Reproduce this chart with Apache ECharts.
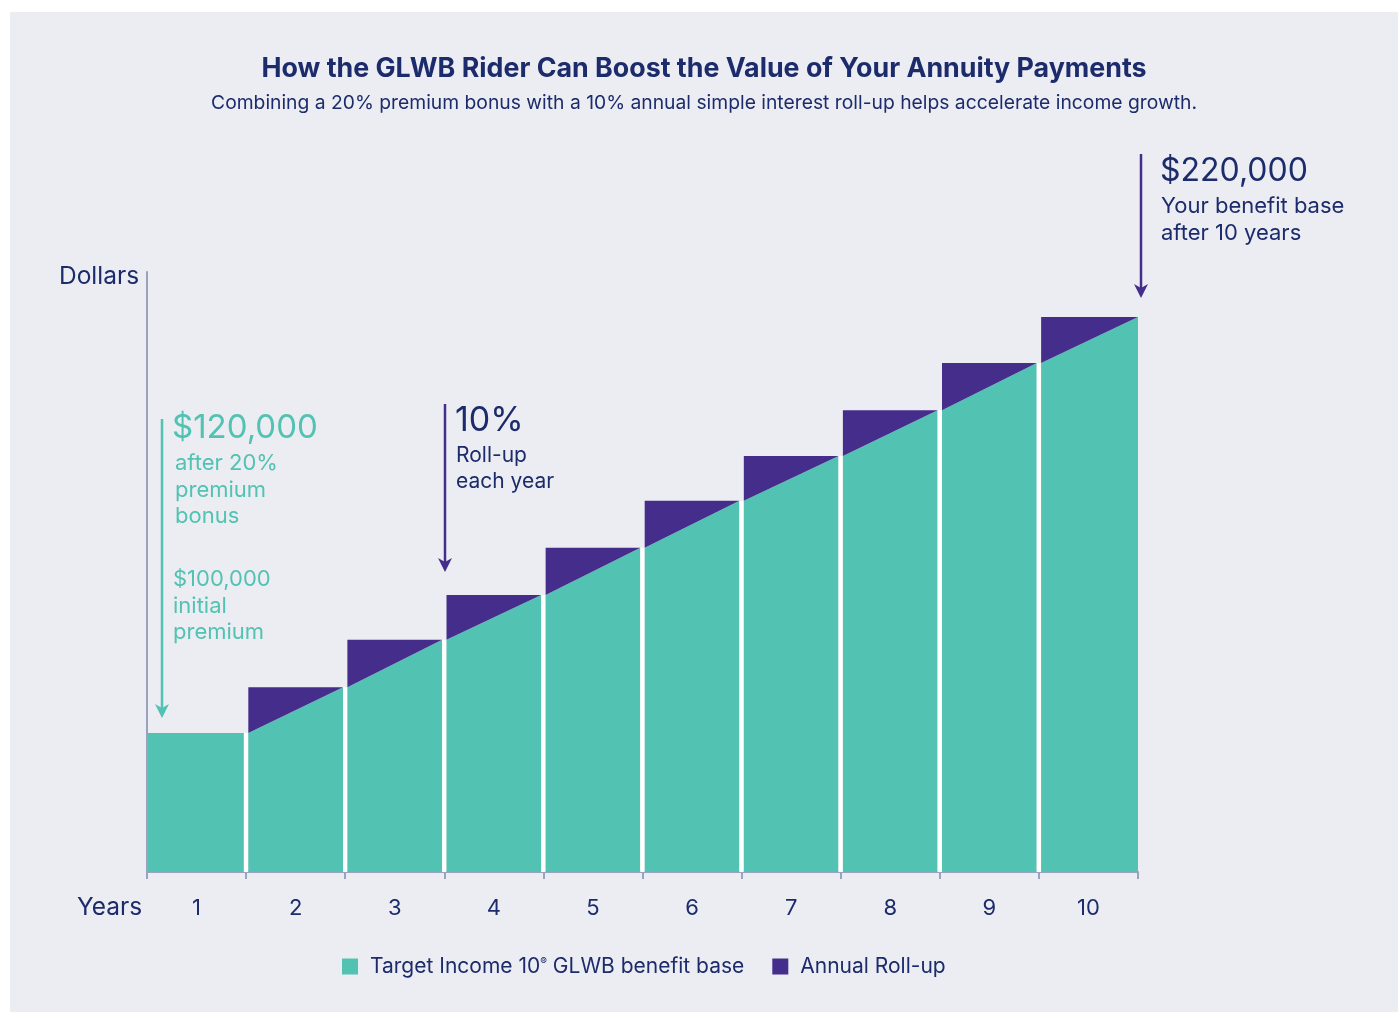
<!DOCTYPE html>
<html>
<head>
<meta charset="utf-8">
<script src="https://cdn.jsdelivr.net/npm/echarts@6/dist/echarts.min.js"></script>
<style>
  html, body { margin: 0; padding: 0; background: #ffffff; }
  #bg { position: absolute; left: 10px; top: 12px; width: 1388px; height: 1000px; background: #ecedf2; }
  #chart { position: absolute; left: 0; top: 0; width: 1398px; height: 1013px; }
</style>
</head>
<body>
<div id="bg"></div>
<div id="chart"></div>
<script>
// ---- data ----
const years = ['1', '2', '3', '4', '5', '6', '7', '8', '9', '10'];
const benefitBase = [120000, 131000, 142400, 153200, 164500, 175800, 186600, 197600, 208900, 220000];
const seriesNames = ['Target Income 10® GLWB benefit base', 'Annual Roll-up'];

// ---- styles ----
const NAVY = '#1c2b6b';
const GREEN = '#52c2b3';
const PURPLE = '#452d8c';
const AXIS = '#9aa3bd';
const FONT = 'Inter, "Noto Sans", sans-serif';

const rows = benefitBase.map((v, i) => [i, i === 0 ? v : benefitBase[i - 1], v]);

const chart = echarts.init(document.getElementById('chart'), null, { renderer: 'canvas' });

function bandEdges(api, idx) {
  const c = api.coord([idx, 0]);
  const w = api.size([1, 0])[0];
  return [c[0] - w / 2, c[0] + w / 2];
}

function renderBase(params, api) {
  const idx = api.value(0), prev = api.value(1), val = api.value(2);
  const [x0, x1] = bandEdges(api, idx);
  const base = params.coordSys.y + params.coordSys.height;
  const yPrev = api.coord([idx, prev])[1];
  const yVal = api.coord([idx, val])[1];
  const g = 2.2;
  const children = [];
  if (idx > 0) {
    children.push({
      type: 'rect',
      shape: { x: x0 - g, y: yPrev, width: 2 * g, height: base - yPrev },
      style: { fill: '#ffffff' }
    });
  }
  const xl = x0 + (idx === 0 ? 1 : g);
  const xr = x1 - (idx === years.length - 1 ? 0 : g);
  children.push({
    type: 'polygon',
    shape: { points: [[xl, base], [xl, yPrev], [xr, yVal], [xr, base]] },
    style: { fill: GREEN }
  });
  return { type: 'group', children };
}

function renderRoll(params, api) {
  const idx = api.value(0), prev = api.value(1), val = api.value(2);
  if (prev === val) return null;
  const [x0, x1] = bandEdges(api, idx);
  const yPrev = api.coord([idx, prev])[1];
  const yVal = api.coord([idx, val])[1];
  const g = 2.2;
  const xr = x1 - (idx === years.length - 1 ? 0 : g);
  return {
    type: 'polygon',
    shape: { points: [[x0 + g, yPrev], [x0 + g, yVal], [xr, yVal]] },
    style: { fill: PURPLE }
  };
}

function txt(x, y, text, size, color, weight) {
  return {
    type: 'text', left: x, top: y,
    style: { text, fontSize: size, fill: color, fontFamily: FONT, fontWeight: weight || 'normal' },
    silent: true
  };
}
function arrow(x, y1, y2, color) {
  return [
    { type: 'line', shape: { x1: x, y1: y1, x2: x, y2: y2 - 6 }, style: { stroke: color, lineWidth: 2.5 }, silent: true },
    { type: 'polygon', shape: { points: [[x - 7, y2 - 14], [x, y2 - 10], [x + 7, y2 - 14], [x, y2]] }, style: { fill: color }, silent: true }
  ];
}

const option = {
  backgroundColor: 'transparent',
  animation: false,
  title: {
    text: 'How the GLWB Rider Can Boost the Value of Your Annuity Payments',
    subtext: 'Combining a 20% premium bonus with a 10% annual simple interest roll-up helps accelerate income growth.',
    left: 699, top: 50, textAlign: 'center', itemGap: 12,
    textStyle: { fontFamily: FONT, fontSize: 26.8, fontWeight: 'bold', color: NAVY },
    subtextStyle: { fontFamily: FONT, fontSize: 19.3, color: NAVY }
  },
  legend: {
    left: 342, top: 956, padding: 0,
    itemWidth: 16, itemHeight: 16, itemGap: 28, icon: 'rect',
    data: seriesNames,
    textStyle: {
      fontFamily: FONT, fontSize: 21, color: NAVY, padding: [0, 0, 0, 7],
      rich: { sup: { fontSize: 10, fontFamily: FONT, color: NAVY, padding: [0, 0, 10, 0] } }
    },
    formatter: n => n.replace('®', '{sup|®}')
  },
  grid: { left: 147, right: 260, top: 272, bottom: 141, containLabel: false },
  xAxis: {
    type: 'category', data: years, boundaryGap: true,
    axisLine: { lineStyle: { color: AXIS, width: 2 } },
    axisTick: { show: true, length: 7, lineStyle: { color: AXIS, width: 2 } },
    axisLabel: { color: NAVY, fontSize: 22, fontFamily: FONT, margin: 25 }
  },
  yAxis: {
    type: 'value', min: 86600, max: 230800,
    axisLine: { show: true, lineStyle: { color: AXIS, width: 2 } },
    axisTick: { show: false }, axisLabel: { show: false }, splitLine: { show: false }
  },
  series: [
    {
      name: seriesNames[0], type: 'custom', renderItem: renderBase,
      itemStyle: { color: GREEN },
      encode: { x: 0, y: 2 },
      data: rows, z: 2
    },
    {
      name: seriesNames[1], type: 'custom', renderItem: renderRoll,
      itemStyle: { color: PURPLE },
      encode: { x: 0, y: 2 },
      data: rows, z: 3
    }
  ],
  graphic: [
    txt(59, 264, 'Dollars', 24.5, NAVY),
    txt(77, 895, 'Years', 24.5, NAVY),
    ...arrow(162, 419, 718, GREEN),
    txt(172, 412, '$120,000', 33, GREEN),
    txt(175, 452, 'after 20%', 22, GREEN),
    txt(175, 479, 'premium', 22, GREEN),
    txt(175, 505, 'bonus', 22, GREEN),
    txt(173, 568, '$100,000', 22, GREEN),
    txt(173, 595, 'initial', 22, GREEN),
    txt(173, 621, 'premium', 22, GREEN),
    ...arrow(445, 404, 572, PURPLE),
    txt(455, 404, '10%', 34, NAVY),
    txt(456, 445, 'Roll-up', 21, NAVY),
    txt(456, 471, 'each year', 21, NAVY),
    ...arrow(1141, 154, 298, PURPLE),
    txt(1160, 155, '$220,000', 32, NAVY),
    txt(1161, 195, 'Your benefit base', 22, NAVY),
    txt(1161, 222, 'after 10 years', 22, NAVY)
  ]
};

chart.setOption(option);
</script>
</body>
</html>
